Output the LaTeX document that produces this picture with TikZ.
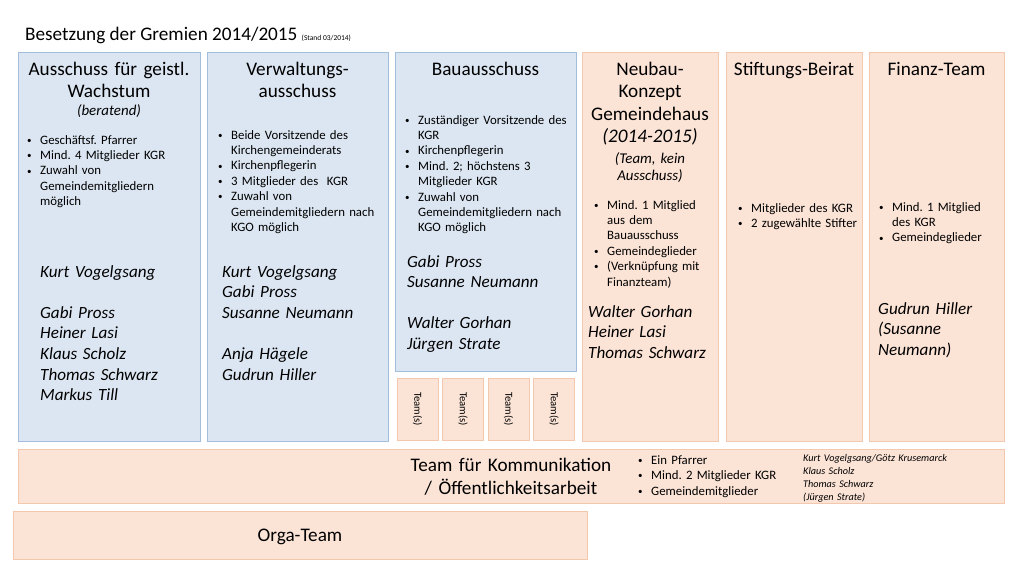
\documentclass[tikz,border=0pt]{standalone}
\usepackage{fontspec}
\setmainfont{Carlito}
\frenchspacing
\definecolor{bluefill}{HTML}{DCE6F2}
\definecolor{blueline}{HTML}{A3BEDD}
\definecolor{peachfill}{HTML}{FBE3D6}
\definecolor{peachline}{HTML}{F4C8AE}
\newcommand{\bi}[1]{\makebox[13pt][l]{\raisebox{0.8pt}{\fontsize{9}{9}\selectfont•}}#1}
\newcommand{\ci}[1]{\hspace*{13pt}#1}
\tikzset{
  bluebox/.style={draw=blueline, fill=bluefill, line width=1pt, anchor=north west, inner sep=0pt},
  peachbox/.style={draw=peachline, fill=peachfill, line width=1pt, anchor=north west, inner sep=0pt},
  head/.style={anchor=base, inner sep=0pt, align=center, text width=175pt, font=\fontsize{19.2}{22.5}\selectfont\frenchspacing},
  sub/.style={anchor=base, inner sep=0pt, align=center, text width=130pt, font=\fontsize{14.9}{17}\selectfont\itshape\frenchspacing},
  bul/.style={anchor=base west, inner sep=0pt, text width=165pt, align=left, font=\fontsize{12.8}{15.4}\selectfont\frenchspacing},
  names/.style={anchor=base west, inner sep=0pt, text width=165pt, align=left, font=\fontsize{17.1}{20.6}\selectfont\itshape\frenchspacing},
  small/.style={anchor=base west, inner sep=0pt, text width=180pt, align=left, font=\fontsize{10.2}{13}\selectfont\itshape\frenchspacing},
  team/.style={peachbox, anchor=center, rotate=-90, minimum width=62pt, minimum height=41pt, font=\fontsize{10.7}{12}\selectfont}
}
\begin{document}
\begin{tikzpicture}[x=1pt,y=-1pt]
\useasboundingbox (0,0) rectangle (1024,576);
\fill[white] (0,0) rectangle (1024,576);

% title
\node[anchor=base west, inner sep=0pt] (title) at (25,40) {\fontsize{19.2}{23}\selectfont Besetzung der Gremien 2014/2015 {\fontsize{7.5}{9}\selectfont(Stand 03/2014)}};

% boxes
\node[bluebox, minimum width=182pt, minimum height=389pt] (c1) at (18,52) {};
\node[bluebox, minimum width=181pt, minimum height=389pt] (c2) at (207,52) {};
\node[bluebox, minimum width=181pt, minimum height=319pt] (c3) at (395,52) {};
\node[peachbox, minimum width=136pt, minimum height=389pt] (c4) at (582,52) {};
\node[peachbox, minimum width=136pt, minimum height=389pt] (c5) at (726,52) {};
\node[peachbox, minimum width=135pt, minimum height=389pt] (c6) at (869,52) {};
\node[peachbox, minimum width=986pt, minimum height=54pt] (bar) at (18,449) {};
\node[peachbox, minimum width=574pt, minimum height=48pt] (orga) at (13,511) {};

\node[team] (t1) at (417.5,409) {Team(s)};
\node[team] (t2) at (463,409) {Team(s)};
\node[team] (t3) at (508.5,409) {Team(s)};
\node[team] (t4) at (554,409) {Team(s)};

% column 1
\node[head] (h1) at (109,75) {Ausschuss für geistl.\\Wachstum};
\node[sub] (s1) at (109,115) {(beratend)};
\node[bul] (l1) at (27,144) {\bi{Geschäftsf. Pfarrer}\\\bi{Mind. 4 Mitglieder KGR}\\\bi{Zuwahl von}\\\ci{Gemeindemitgliedern}\\\ci{möglich}};
\node[names] (n1) at (40,277) {Kurt Vogelgsang\\~\\Gabi Pross\\Heiner Lasi\\Klaus Scholz\\Thomas Schwarz\\Markus Till};

% column 2
\node[head] (h2) at (297.5,75) {Verwaltungs-\\ausschuss};
\node[bul] (l2) at (218,139) {\bi{Beide Vorsitzende des}\\\ci{Kirchengemeinderats}\\\bi{Kirchenpflegerin}\\\bi{3 Mitglieder des\ \ KGR}\\\bi{Zuwahl von}\\\ci{Gemeindemitgliedern nach}\\\ci{KGO möglich}};
\node[names] (n2) at (222,277) {Kurt Vogelgsang\\Gabi Pross\\Susanne Neumann\\~\\Anja Hägele\\Gudrun Hiller};

% column 3
\node[head] (h3) at (485.5,75) {Bauausschuss};
\node[bul] (l3) at (405,124) {\bi{Zuständiger Vorsitzende des}\\\ci{KGR}\\\bi{Kirchenpflegerin}\\\bi{Mind. 2; höchstens 3}\\\ci{Mitglieder KGR}\\\bi{Zuwahl von}\\\ci{Gemeindemitgliedern nach}\\\ci{KGO möglich}};
\node[names] (n3) at (407,267) {Gabi Pross\\Susanne Neumann\\~\\Walter Gorhan\\Jürgen Strate};

% column 4
\node[head, text width=130pt] (h4) at (650,75) {Neubau-\\Konzept\\Gemeindehaus\\\textit{(2014-2015)}};
\node[sub] (s4) at (650,163) {(Team, kein\\Ausschuss)};
\node[bul, text width=122pt] (l4) at (594,209) {\bi{Mind. 1 Mitglied}\\\ci{aus dem}\\\ci{Bauausschuss}\\\bi{Gemeindeglieder}\\\bi{(Verknüpfung mit}\\\ci{Finanzteam)}};
\node[names, text width=125pt] (n4) at (588,317) {Walter Gorhan\\Heiner Lasi\\Thomas Schwarz};

% column 5
\node[head, text width=130pt] (h5) at (794,75) {Stiftungs-Beirat};
\node[bul, text width=125pt] (l5) at (738,212) {\bi{Mitglieder des KGR}\\\bi{2 zugewählte Stifter}};

% column 6
\node[head, text width=130pt] (h6) at (936.5,75) {Finanz-Team};
\node[bul, text width=120pt] (l6) at (879,211) {\bi{Mind. 1 Mitglied}\\\ci{des KGR}\\\bi{Gemeindeglieder}};
\node[names, text width=120pt] (n6) at (878,314) {Gudrun Hiller\\(Susanne\\Neumann)};

% bottom bar
\node[head, text width=250pt, font=\fontsize{19.2}{23}\selectfont] (bt) at (511,471) {Team für Kommunikation\\/ Öffentlichkeitsarbeit};
\node[bul, text width=150pt, font=\fontsize{12.8}{15.5}\selectfont\frenchspacing] (lb) at (638,464) {\bi{Ein Pfarrer}\\\bi{Mind. 2 Mitglieder KGR}\\\bi{Gemeindemitglieder}};
\node[small] (nb) at (803,461) {Kurt Vogelgsang/Götz Krusemarck\\Klaus Scholz\\Thomas Schwarz\\(Jürgen Strate)};

% orga
\node[head] (ot) at (300,541) {Orga-Team};
\end{tikzpicture}
\end{document}
